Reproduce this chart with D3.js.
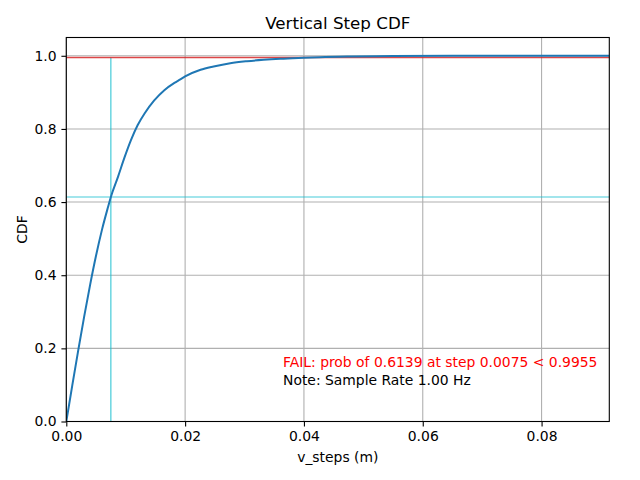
<!DOCTYPE html>
<html>
<head>
<meta charset="utf-8">
<script src="https://cdn.jsdelivr.net/npm/d3@7"></script>
<style>
  body { margin: 0; background: #fff; }
  text { font-family: "DejaVu Sans", sans-serif; }
</style>
</head>
<body>
<div id="chart"></div>
<script>
var steps = [0, 0.001, 0.002, 0.003, 0.004, 0.005, 0.006, 0.007, 0.0075, 0.0087,
  0.0098, 0.0109, 0.012, 0.0132, 0.0148, 0.0165, 0.0182, 0.0192, 0.0200, 0.0226,
  0.0248, 0.0276, 0.0304, 0.0332, 0.0360, 0.0399, 0.0427, 0.048, 0.055, 0.065, 0.075, 0.0914];
var cdf = [0, 0.098, 0.194, 0.286, 0.373, 0.453, 0.524, 0.585, 0.6139, 0.669,
  0.722, 0.770, 0.810, 0.843, 0.878, 0.906, 0.926, 0.9355, 0.9435, 0.9617,
  0.9708, 0.9798, 0.9852, 0.989, 0.9918, 0.9945, 0.9962, 0.998, 0.9993, 0.9999, 1.0, 1.0];

var xTicks = [0, 0.02, 0.04, 0.06, 0.08];
var yTicks = [0, 0.2, 0.4, 0.6, 0.8, 1.0];

var stepLimit = 0.0075;
var probAtStep = 0.6139;
var probRequired = 0.9955;

var svgWidth = 640, svgHeight = 480;
var margin = {top: 37.5, right: 30.7, bottom: 58.5, left: 66.3};
var width = svgWidth - margin.left - margin.right,
    height = svgHeight - margin.top - margin.bottom;

var svg = d3.select("#chart").append("svg")
  .attr("width", svgWidth)
  .attr("height", svgHeight);

var chart = svg.append("g")
  .attr("transform", `translate(${margin.left},${margin.top})`);

var x = d3.scaleLinear().domain([0, 0.0914]).range([0, width]);
var y = d3.scaleLinear().domain([0, 1.05]).range([height, 0]);

svg.append("defs").append("clipPath").attr("id", "clip")
  .append("rect").attr("width", width).attr("height", height);

// grid
chart.append("g").selectAll("line").data(xTicks).enter().append("line")
  .attr("x1", d => x(d)).attr("x2", d => x(d))
  .attr("y1", 0).attr("y2", height)
  .attr("stroke", "#b0b0b0").attr("stroke-width", 1.1);
chart.append("g").selectAll("line").data(yTicks).enter().append("line")
  .attr("x1", 0).attr("x2", width)
  .attr("y1", d => y(d)).attr("y2", d => y(d))
  .attr("stroke", "#b0b0b0").attr("stroke-width", 1.1);

// threshold lines
chart.append("line")
  .attr("x1", 0).attr("x2", width)
  .attr("y1", y(probAtStep)).attr("y2", y(probAtStep))
  .attr("stroke", "#17becf").attr("stroke-opacity", 0.8).attr("stroke-width", 1.2);
chart.append("line")
  .attr("x1", x(stepLimit)).attr("x2", x(stepLimit))
  .attr("y1", y(0)).attr("y2", y(probRequired))
  .attr("stroke", "#17becf").attr("stroke-opacity", 0.8).attr("stroke-width", 1.2);
chart.append("line")
  .attr("x1", 0).attr("x2", width)
  .attr("y1", y(probRequired)).attr("y2", y(probRequired))
  .attr("stroke", "#d62728").attr("stroke-opacity", 0.85).attr("stroke-width", 1.5);

// curve
var line = d3.line()
  .x((d, i) => x(steps[i]))
  .y(d => y(d))
  .curve(d3.curveMonotoneX);

chart.append("path")
  .datum(cdf)
  .attr("clip-path", "url(#clip)")
  .attr("d", line)
  .attr("fill", "none")
  .attr("stroke", "#1f77b4")
  .attr("stroke-width", 2);

// axes
var xAxis = d3.axisBottom(x).tickValues(xTicks).tickFormat(d3.format(".2f"))
  .tickSize(4.9).tickPadding(4.9).tickSizeOuter(0);
var yAxis = d3.axisLeft(y).tickValues(yTicks).tickFormat(d3.format(".1f"))
  .tickSize(4.9).tickPadding(4.9).tickSizeOuter(0);

chart.append("g")
  .attr("transform", `translate(0,${height})`)
  .call(xAxis)
  .call(g => g.select(".domain").remove())
  .call(g => g.selectAll("line").attr("stroke-width", 1.1))
  .call(g => g.selectAll("text").attr("font-size", "13.9px").attr("fill", "#000")
    .attr("font-family", "DejaVu Sans"));

chart.append("g")
  .call(yAxis)
  .call(g => g.select(".domain").remove())
  .call(g => g.selectAll("line").attr("stroke-width", 1.1))
  .call(g => g.selectAll("text").attr("font-size", "13.9px").attr("fill", "#000")
    .attr("font-family", "DejaVu Sans"));

// frame
chart.append("rect")
  .attr("width", width).attr("height", height)
  .attr("fill", "none").attr("stroke", "#000").attr("stroke-width", 1.1);

// labels
svg.append("text")
  .attr("x", margin.left + width / 2).attr("y", 29)
  .attr("text-anchor", "middle").attr("font-size", "16.7px")
  .text("Vertical Step CDF");

svg.append("text")
  .attr("x", margin.left + width / 2).attr("y", 462)
  .attr("text-anchor", "middle").attr("font-size", "13.9px")
  .text("v_steps (m)");

svg.append("text")
  .attr("transform", `translate(27,${margin.top + height / 2}) rotate(-90)`)
  .attr("text-anchor", "middle").attr("font-size", "13.9px")
  .text("CDF");

svg.append("text")
  .attr("x", 283).attr("y", 367)
  .attr("font-size", "13.9px").attr("fill", "red")
  .text("FAIL: prob of 0.6139 at step 0.0075 < 0.9955");

svg.append("text")
  .attr("x", 283).attr("y", 385)
  .attr("font-size", "13.9px").attr("fill", "#000")
  .text("Note: Sample Rate 1.00 Hz");
</script>
</body>
</html>
